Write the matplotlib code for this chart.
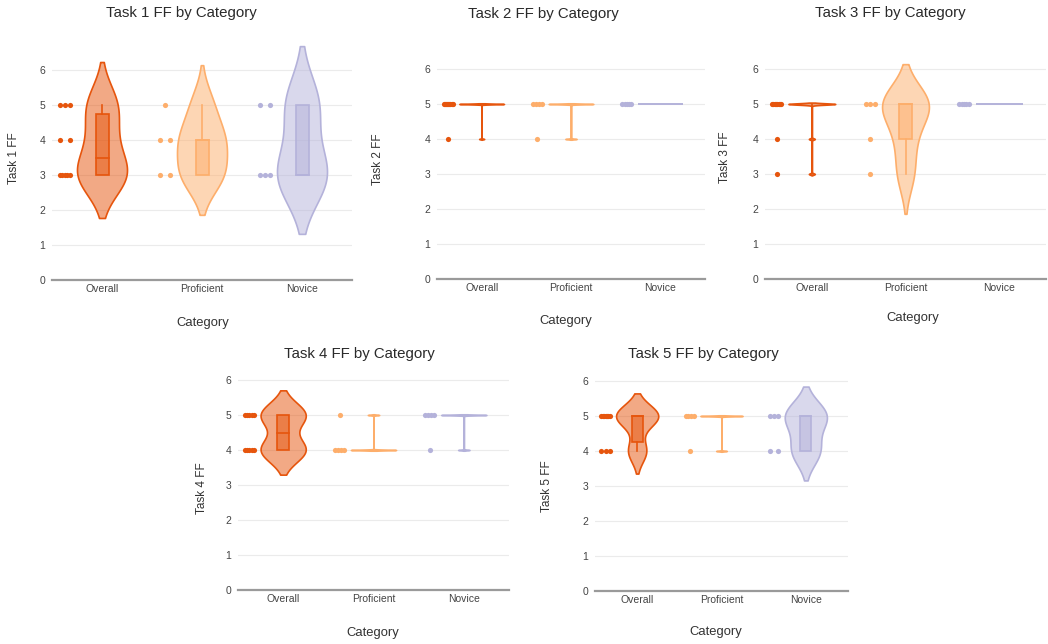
import numpy as np
import matplotlib.pyplot as plt
from matplotlib.colors import to_rgba
from matplotlib.patches import Rectangle

plt.rcParams['font.family'] = ['Liberation Sans', 'DejaVu Sans']

categories = ["Overall", "Proficient", "Novice"]
colors = ["#E6550D", "#FDAE6B", "#B4B2DA"]

# raw scores per group; "Overall" is both groups together
task1_proficient = [3, 3, 4, 4, 5]
task1_novice = [3, 3, 3, 5, 5]
task2_proficient = [4, 5, 5, 5, 5]
task2_novice = [5, 5, 5, 5, 5]
task3_proficient = [3, 4, 5, 5, 5]
task3_novice = [5, 5, 5, 5, 5]
task4_proficient = [4, 4, 4, 4, 5]
task4_novice = [4, 5, 5, 5, 5]
task5_proficient = [4, 5, 5, 5, 5]
task5_novice = [4, 4, 5, 5, 5]

tasks = [
    ("Task 1 FF", task1_proficient, task1_novice),
    ("Task 2 FF", task2_proficient, task2_novice),
    ("Task 3 FF", task3_proficient, task3_novice),
    ("Task 4 FF", task4_proficient, task4_novice),
    ("Task 5 FF", task5_proficient, task5_novice),
]

W, H = 1048, 644
PX_PER_UNIT = 35.0
YMAX = 6.8
HALF = 0.25      # violin half width (category units)
BOX = 0.065      # inner box half width
PTS = -0.375     # x offset of the points column
TEXT = "#444444"

# panel placement in pixels: plot left, plot right, pixel row of y=0,
# title centre, y-label centre, x-label centre
layout = [
    (52, 352, 280, (181, 13), (14, 158), (203, 323)),
    (437, 705, 279, (543, 14), (378, 159), (566, 321)),
    (765, 1046, 279, (890, 13), (725, 157), (913, 318)),
    (238, 509, 590, (359, 354), (202, 488), (373, 633)),
    (595, 848, 591, (703, 354), (547, 486), (716, 632)),
]


def bandwidth(v):
    span = v.max() - v.min()
    if span == 0:
        return 0.0
    q1, q3 = np.percentile(v, [25, 75])
    sd = v.std(ddof=1)
    bw = 1.059 * min(sd, (q3 - q1) / 1.349) * len(v) ** -0.2
    return max(bw, span / 100)


def draw_group(ax, pos, vals, color):
    v = np.asarray(vals, float)
    bw = bandwidth(v)
    if bw == 0:
        ax.plot([pos - HALF, pos + HALF], [v[0], v[0]], color=color, lw=1.4,
                solid_capstyle='butt', zorder=3)
    else:
        ys = np.linspace(v.min() - 2 * bw, v.max() + 2 * bw, 3000)
        dens = np.exp(-0.5 * ((ys[:, None] - v[None, :]) / bw) ** 2).sum(axis=1)
        w = dens / dens.max() * HALF
        ax.fill_betweenx(ys, pos - w, pos + w, facecolor=to_rgba(color, 0.5),
                         edgecolor=color, lw=1.2, zorder=3)

    # inner box
    q1, med, q3 = np.percentile(v, [25, 50, 75])
    ax.plot([pos, pos], [v.min(), q1], color=color, lw=1.2, zorder=4)
    ax.plot([pos, pos], [q3, v.max()], color=color, lw=1.2, zorder=4)
    if q3 > q1:
        ax.add_patch(Rectangle((pos - BOX, q1), 2 * BOX, q3 - q1,
                               facecolor=to_rgba(color, 0.5), edgecolor=color,
                               lw=1.2, zorder=4))
        ax.plot([pos - BOX, pos + BOX], [med, med], color=color, lw=1.2, zorder=5)

    # all points, spread sideways
    for val in np.unique(v):
        n = int((v == val).sum())
        offs = np.linspace(-0.05, 0.05, n) if n > 1 else np.array([0.0])
        ax.scatter(pos + PTS + offs, np.full(n, val), s=14, color=color,
                   linewidths=0, zorder=4)


fig = plt.figure(figsize=(W / 100, H / 100), dpi=100)

for (name, prof, nov), (x0, x1, y0, tpos, ypos, xpos) in zip(tasks, layout):
    ax = fig.add_axes([x0 / W, (H - y0) / H, (x1 - x0) / W,
                       YMAX * PX_PER_UNIT / H])
    groups = [prof + nov, prof, nov]
    for i, (vals, c) in enumerate(zip(groups, colors)):
        draw_group(ax, i, vals, c)

    ax.set_xlim(-0.5, 2.5)
    ax.set_ylim(0, YMAX)
    ax.set_xticks(range(3))
    ax.set_xticklabels(categories)
    ax.set_yticks(range(7))
    ax.tick_params(length=0, labelsize=7.5, colors=TEXT)
    ax.tick_params(axis='y', pad=5)
    ax.tick_params(axis='x', pad=3)
    ax.grid(axis='y', color='#EBEBEB', lw=0.8)
    ax.set_axisbelow(True)
    for s in ['top', 'right', 'left']:
        ax.spines[s].set_visible(False)
    ax.spines['bottom'].set_color('#9A9A9A')
    ax.spines['bottom'].set_linewidth(1.6)
    ax.patch.set_alpha(0)

    fig.text(tpos[0] / W, 1 - tpos[1] / H, f"{name} by Category",
             ha='center', va='center', fontsize=10.8, color='#2A2A2A')
    fig.text(ypos[0] / W, 1 - ypos[1] / H, name, rotation=90,
             ha='center', va='center', fontsize=8.5, color='#333333')
    fig.text(xpos[0] / W, 1 - xpos[1] / H, "Category",
             ha='center', va='center', fontsize=9.4, color='#333333')

fig.savefig("out.png", dpi=100)
